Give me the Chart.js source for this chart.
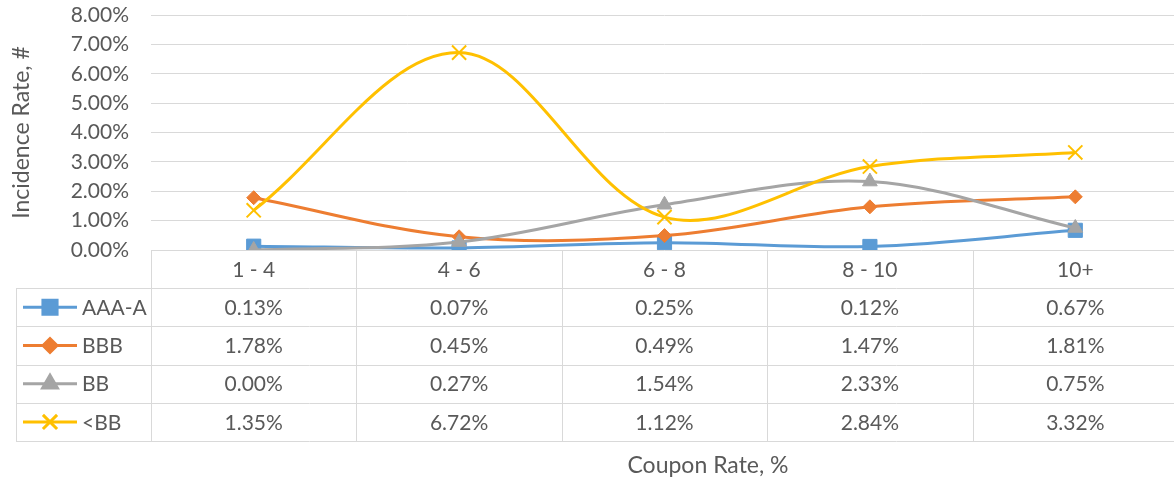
<!DOCTYPE html>
<html>
<head>
<meta charset="utf-8">
<script src="https://cdn.jsdelivr.net/npm/chart.js@4.4.1/dist/chart.umd.min.js"></script>
<style>
  html, body { margin: 0; padding: 0; background: #fff; overflow: hidden; }
</style>
</head>
<body>
<canvas id="incidenceChart" width="1190" height="482"></canvas>
<script>
// data (percent)
const categories = ["1 - 4", "4 - 6", "6 - 8", "8 - 10", "10+"];
const aaaA = [0.13, 0.07, 0.25, 0.12, 0.67];
const bbb = [1.78, 0.45, 0.49, 1.47, 1.81];
const bb = [0.00, 0.27, 1.54, 2.33, 0.75];
const belowBB = [1.35, 6.72, 1.12, 2.84, 3.32];
const yMax = 8;
const yStep = 1;

const textColor = "#595959";
const gridColor = "#D9D9D9";
const fontFamily = "Lato, 'Open Sans', sans-serif";
const fontSize = 21;
const titleSize = 23;

function pct(v) { return v.toFixed(2) + "%"; }

// data table below the plot, aligned on the x scale
const dataTable = {
  id: "dataTable",
  afterDraw(chart) {
    const ctx = chart.ctx;
    const area = chart.chartArea;
    const x = chart.scales.x;
    const rowH = 38.2;
    const top = area.bottom;
    const n = categories.length;
    const colW = (area.right - area.left) / n;
    const tableLeft = 16;
    const rows = chart.data.datasets.length;

    ctx.save();
    ctx.strokeStyle = gridColor;
    ctx.lineWidth = 1;
    ctx.beginPath();
    for (let i = 1; i <= rows + 1; i++) {
      const y = Math.round(top + i * rowH) + 0.5;
      ctx.moveTo(tableLeft, y);
      ctx.lineTo(chart.width, y);
    }
    ctx.moveTo(tableLeft + 0.5, Math.round(top + rowH) + 0.5);
    ctx.lineTo(tableLeft + 0.5, Math.round(top + (rows + 1) * rowH) + 0.5);
    for (let i = 0; i <= n; i++) {
      const bx = Math.round(area.left + i * colW) + 0.5;
      ctx.moveTo(bx, top);
      ctx.lineTo(bx, Math.round(top + (rows + 1) * rowH) + 0.5);
    }
    ctx.stroke();

    ctx.fillStyle = textColor;
    ctx.font = fontSize + "px " + fontFamily;
    ctx.textAlign = "center";
    ctx.textBaseline = "middle";
    categories.forEach((c, i) => {
      ctx.fillText(c, x.getPixelForValue(i), top + rowH / 2 + 1);
    });

    chart.data.datasets.forEach((ds, r) => {
      const cy = top + (r + 1) * rowH + rowH / 2 + 1;
      ds.data.forEach((v, i) => {
        ctx.fillStyle = textColor;
        ctx.textAlign = "center";
        ctx.fillText(pct(v), x.getPixelForValue(i), cy);
      });
      // legend key
      const ly = cy - 1;
      ctx.strokeStyle = ds.borderColor;
      ctx.lineWidth = ds.borderWidth;
      ctx.beginPath();
      ctx.moveTo(23, ly);
      ctx.lineTo(77, ly);
      ctx.stroke();
      ctx.fillStyle = ds.pointBackgroundColor;
      ctx.strokeStyle = ds.pointBorderColor;
      Chart.helpers.drawPoint(ctx, {
        pointStyle: ds.pointStyle,
        radius: ds.pointRadius,
        rotation: 0,
        borderWidth: ds.pointBorderWidth
      }, 50, ly);
      ctx.fillStyle = textColor;
      ctx.textAlign = "left";
      ctx.fillText(ds.label, 82, cy);
    });

    ctx.textAlign = "center";
    ctx.fillStyle = textColor;
    ctx.font = titleSize + "px " + fontFamily;
    ctx.fillText("Coupon Rate, %", 708, 466);
    ctx.restore();
  }
};

function series(label, data, color, style, radius, order, bw) {
  return {
    label: label,
    data: data,
    borderColor: color,
    backgroundColor: color,
    pointBackgroundColor: color,
    pointBorderColor: color,
    pointStyle: style,
    pointRadius: radius,
    pointBorderWidth: bw,
    borderWidth: 3,
    tension: 0.35,
    fill: false,
    order: order
  };
}

new Chart(document.getElementById("incidenceChart"), {
  type: "line",
  data: {
    labels: categories,
    datasets: [
      series("AAA-A", aaaA, "#5B9BD5", "rect", 10, 4, 1),
      series("BBB", bbb, "#ED7D31", "rectRot", 7, 3, 1),
      series("BB", bb, "#A5A5A5", "triangle", 8.5, 2, 1),
      series("<BB", belowBB, "#FFC000", "crossRot", 10, 1, 2)
    ]
  },
  options: {
    responsive: false,
    animation: false,
    layout: { padding: { top: 15, bottom: 232, left: 0, right: 1 } },
    plugins: {
      legend: { display: false },
      tooltip: { enabled: false }
    },
    scales: {
      x: { type: "category", offset: true, display: false },
      y: {
        min: 0,
        max: yMax,
        ticks: {
          stepSize: yStep,
          color: textColor,
          font: { family: fontFamily, size: fontSize },
          padding: 22,
          callback: (v) => pct(v)
        },
        grid: { color: gridColor, drawTicks: false },
        border: { display: false },
        title: {
          display: true,
          text: "Incidence Rate, #",
          color: textColor,
          font: { family: fontFamily, size: titleSize },
          padding: { top: 8, bottom: 0 }
        },
        afterFit(scale) {
          scale.width = 151;
          scale.paddingTop = 0;
          scale.paddingBottom = 0;
        }
      }
    }
  },
  plugins: [dataTable]
});
</script>
</body>
</html>
